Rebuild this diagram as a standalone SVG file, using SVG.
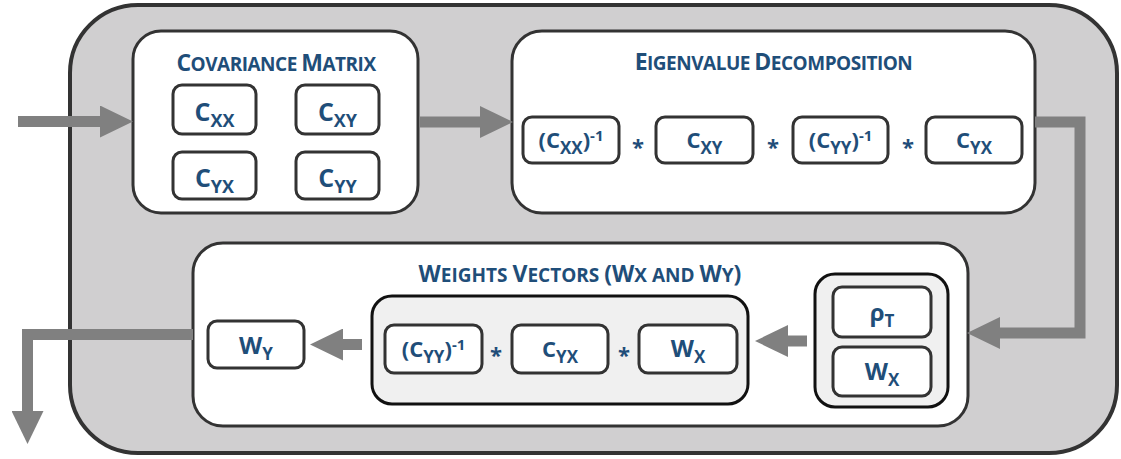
<svg xmlns="http://www.w3.org/2000/svg" width="1121" height="459" viewBox="0 0 1121 459">
  <style>
    .frame { fill: #d0cfd0; stroke: #333333; stroke-width: 4; }
    .panel { fill: #ffffff; stroke: #333333; stroke-width: 3; }
    .group { fill: #f0f0f0; stroke: #111111; stroke-width: 3; }
    .cell  { fill: #ffffff; stroke: #333333; stroke-width: 3; }
    .wire  { fill: none; stroke: #808080; stroke-width: 11; stroke-linejoin: miter; }
    text   { font-family: "Open Sans", "Liberation Sans", sans-serif; font-weight: 700; fill: #1f4e79; }
    .title { text-anchor: middle; }
    .tight { letter-spacing: -0.5px; }
    .cap   { font-size: 23px; }
    .sc    { font-size: 19px; }
    .sym   { text-anchor: middle; font-size: 22px; }
    .big   { text-anchor: middle; font-size: 25px; }
    .wide  { text-anchor: middle; font-size: 24px; }
    .sub   { font-size: 17px; }
    .subb  { font-size: 18px; }
    .sup   { font-size: 15px; }
    .star  { text-anchor: middle; font-size: 22px; }
  </style>
  <defs>
    <marker id="head" viewBox="0 0 33 32" markerWidth="33" markerHeight="32" refX="0" refY="16" orient="auto" markerUnits="userSpaceOnUse">
      <path d="M0,0 L33,16 L0,32 Z" fill="#808080"/>
    </marker>
  </defs>

  <!-- outer frame -->
  <rect id="frame" class="frame" x="70" y="5" width="1047" height="448" rx="68" ry="68"/>

  <!-- covariance matrix -->
  <g id="covariance">
    <rect class="panel" x="133" y="31" width="285" height="182" rx="28"/>
    <text class="title tight" x="276" y="71"><tspan class="cap">C</tspan><tspan class="sc">OVARIANCE </tspan><tspan class="cap">M</tspan><tspan class="sc">ATRIX</tspan></text>
    <g id="cov-xx">
      <rect class="cell" x="173" y="85" width="83" height="49" rx="9"/>
      <text class="big" x="214.5" y="121">C<tspan class="subb" dy="6">XX</tspan></text>
    </g>
    <g id="cov-xy">
      <rect class="cell" x="296" y="85" width="83" height="49" rx="9"/>
      <text class="big" x="337.5" y="121">C<tspan class="subb" dy="6">XY</tspan></text>
    </g>
    <g id="cov-yx">
      <rect class="cell" x="173" y="152" width="83" height="47" rx="9"/>
      <text class="big" x="214.5" y="187">C<tspan class="subb" dy="6">YX</tspan></text>
    </g>
    <g id="cov-yy">
      <rect class="cell" x="296" y="152" width="83" height="47" rx="9"/>
      <text class="big" x="337.5" y="187">C<tspan class="subb" dy="6">YY</tspan></text>
    </g>
  </g>

  <!-- eigenvalue decomposition -->
  <g id="eigen">
    <rect class="panel" x="512" y="31" width="523" height="182" rx="30"/>
    <text class="title tight" x="773.5" y="70"><tspan class="cap">E</tspan><tspan class="sc">IGENVALUE </tspan><tspan class="cap">D</tspan><tspan class="sc">ECOMPOSITION</tspan></text>
    <g id="eig-inv-xx">
      <rect class="cell" x="523" y="117" width="96" height="46" rx="9"/>
      <text class="sym" x="571" y="148">(C<tspan class="sub" dy="6">XX</tspan><tspan dy="-6">)</tspan><tspan class="sup" dy="-7">-1</tspan></text>
    </g>
    <text class="star" x="638" y="155">*</text>
    <g id="eig-xy">
      <rect class="cell" x="656" y="117" width="97" height="46" rx="9"/>
      <text class="sym" x="704.5" y="148">C<tspan class="sub" dy="6">XY</tspan></text>
    </g>
    <text class="star" x="773" y="155">*</text>
    <g id="eig-inv-yy">
      <rect class="cell" x="793" y="117" width="95" height="46" rx="9"/>
      <text class="sym" x="840.5" y="148">(C<tspan class="sub" dy="6">YY</tspan><tspan dy="-6">)</tspan><tspan class="sup" dy="-7">-1</tspan></text>
    </g>
    <text class="star" x="908" y="155">*</text>
    <g id="eig-yx">
      <rect class="cell" x="926" y="117" width="96" height="46" rx="9"/>
      <text class="sym" x="974" y="148">C<tspan class="sub" dy="6">YX</tspan></text>
    </g>
  </g>

  <!-- weights vectors -->
  <g id="weights">
    <rect class="panel" x="193" y="243" width="775" height="183" rx="30"/>
    <text class="title" x="580" y="282"><tspan class="cap">W</tspan><tspan class="sc">EIGHTS </tspan><tspan class="cap">V</tspan><tspan class="sc">ECTORS </tspan><tspan class="cap">(W</tspan><tspan class="sc">X AND </tspan><tspan class="cap">W</tspan><tspan class="sc">Y</tspan><tspan class="cap">)</tspan></text>
    <g id="w-y">
      <rect class="cell" x="208" y="321" width="96" height="47" rx="9"/>
      <text class="wide" x="256" y="354">W<tspan class="sub" dy="6">Y</tspan></text>
    </g>
    <g id="w-formula">
      <rect class="group" x="372" y="296" width="376" height="108" rx="20"/>
      <g id="wf-inv-yy">
        <rect class="cell" x="385" y="325" width="97" height="48" rx="9"/>
        <text class="sym" x="433.5" y="357">(C<tspan class="sub" dy="6">YY</tspan><tspan dy="-6">)</tspan><tspan class="sup" dy="-7">-1</tspan></text>
      </g>
      <text class="star" x="496" y="363">*</text>
      <g id="wf-yx">
        <rect class="cell" x="512" y="325" width="96" height="48" rx="9"/>
        <text class="sym" x="560" y="357">C<tspan class="sub" dy="6">YX</tspan></text>
      </g>
      <text class="star" x="624" y="363">*</text>
      <g id="wf-x">
        <rect class="cell" x="639" y="325" width="98" height="48" rx="9"/>
        <text class="wide" x="688" y="357">W<tspan class="sub" dy="6">X</tspan></text>
      </g>
    </g>
    <g id="eigen-result">
      <rect class="group" x="815" y="274" width="133" height="133" rx="20"/>
      <g id="rho-t">
        <rect class="cell" x="833" y="287" width="98" height="50" rx="9"/>
        <text class="wide" x="882" y="321">ρ<tspan class="sub" dy="6">T</tspan></text>
      </g>
      <g id="w-x">
        <rect class="cell" x="833" y="347" width="98" height="49" rx="9"/>
        <text class="wide" x="882" y="380">W<tspan class="sub" dy="6">X</tspan></text>
      </g>
    </g>
  </g>

  <!-- connectors, drawn over the panels -->
  <g id="connectors">
    <path class="wire" d="M18,121.5 H100" marker-end="url(#head)"/>
    <path class="wire" d="M419,122 H480" marker-end="url(#head)"/>
    <path class="wire" d="M1035,122 H1080 V333 H1000" marker-end="url(#head)"/>
    <path class="wire" d="M807,341 H788" marker-end="url(#head)"/>
    <path class="wire" d="M362,344.5 H343" marker-end="url(#head)"/>
    <path class="wire" d="M193,334.5 H27.5 V411" marker-end="url(#head)"/>
  </g>
</svg>
